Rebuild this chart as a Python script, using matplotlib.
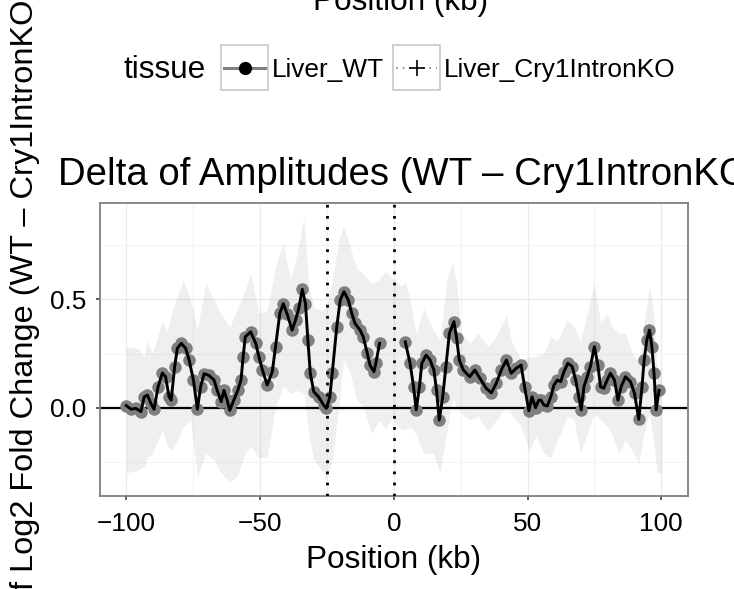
import numpy as np
import matplotlib.pyplot as plt
from matplotlib.patches import Rectangle
from matplotlib.lines import Line2D
from matplotlib.ticker import FormatStrFormatter

plt.rcParams['font.family'] = ['Liberation Sans', 'DejaVu Sans']

W, H = 734, 589

# delta of amplitudes, left of the gap (kb, value)
pos_left = [-100.0, -98.2, -96.4, -94.5, -93.3, -92.1, -90.8, -89.6, -88.1, -86.5,
            -85.3, -84.0, -83.2, -81.9, -80.9, -79.4, -77.8, -76.5, -74.9, -73.4,
            -72.2, -70.9, -69.1, -67.2, -66.0, -64.5, -63.5, -62.3, -61.3, -59.8,
            -58.3, -57.1, -56.3, -55.5, -53.5, -51.6, -50.4, -49.1, -47.3, -45.4,
            -44.2, -42.6, -41.3, -39.8, -38.0, -36.7, -35.5, -34.2, -33.0, -32.1,
            -31.2, -29.9, -28.1, -26.2, -25.2, -23.9, -23.0, -21.3, -20.0, -18.6,
            -17.0, -15.7, -14.5, -12.6, -11.4, -9.9, -8.9, -7.4, -6.7, -5.3]
delta_left = [0.010, -0.007, -0.003, -0.018, 0.050, 0.058, 0.020, -0.007, 0.097, 0.160,
              0.143, 0.050, 0.035, 0.190, 0.274, 0.297, 0.274, 0.220, 0.128, -0.007,
              0.097, 0.157, 0.149, 0.128, 0.080, 0.028, 0.080, 0.035, -0.012, 0.035,
              0.080, 0.128, 0.235, 0.327, 0.350, 0.297, 0.235, 0.174, 0.105, 0.166,
              0.281, 0.435, 0.480, 0.430, 0.358, 0.405, 0.458, 0.546, 0.480, 0.312,
              0.159, 0.074, 0.050, 0.012, -0.003, 0.050, 0.159, 0.374, 0.497, 0.535,
              0.497, 0.435, 0.389, 0.358, 0.327, 0.251, 0.197, 0.166, 0.205, 0.297]

# right of the gap
pos_right = [4.3, 6.1, 7.4, 8.4, 9.6, 10.5, 12.1, 13.6, 15.0, 16.0,
             17.0, 18.3, 19.5, 20.8, 22.5, 23.5, 24.5, 26.0, 28.4, 30.3,
             32.2, 34.6, 36.5, 38.3, 40.2, 42.1, 43.9, 45.8, 47.6, 48.9,
             50.5, 51.7, 53.0, 54.2, 55.0, 56.2, 57.4, 58.7, 59.9, 61.2,
             62.4, 63.6, 65.1, 66.7, 68.0, 69.2, 70.1, 71.1, 72.3, 73.5,
             75.0, 76.3, 77.3, 78.5, 79.8, 81.0, 82.5, 83.8, 85.0, 86.6,
             88.5, 90.0, 91.6, 92.8, 93.6, 94.6, 95.6, 96.5, 97.3, 98.1, 99.2]
delta_right = [0.304, 0.205, 0.097, -0.010, 0.097, 0.205, 0.243, 0.220, 0.174, 0.080,
               -0.057, 0.050, 0.190, 0.343, 0.397, 0.320, 0.220, 0.174, 0.143, 0.174,
               0.136, 0.089, 0.069, 0.112, 0.174, 0.220, 0.159, 0.182, 0.197, 0.097,
               -0.014, 0.050, 0.000, 0.035, 0.035, 0.012, 0.008, 0.050, 0.105, 0.128,
               0.120, 0.166, 0.205, 0.190, 0.128, 0.050, -0.010, 0.097, 0.143, 0.190,
               0.281, 0.197, 0.097, 0.090, 0.128, 0.159, 0.128, 0.035, 0.097, 0.143,
               0.120, 0.066, -0.054, 0.097, 0.220, 0.312, 0.358, 0.281, 0.159, -0.010, 0.080]

# confidence band
band_pos = [-100.0, -95.8, -93.3, -92.1, -90.2, -86.5, -84.6, -82.8, -78.7, -76.0,
            -73.4, -70.3, -67.2, -64.7, -61.3, -58.6, -55.5, -53.5, -50.4, -47.3,
            -44.2, -41.3, -38.6, -36.1, -33.6, -31.8, -29.9, -26.8, -25.2, -23.0,
            -20.5, -18.8, -16.3, -13.8, -11.4, -8.3, -5.5, -3.0, -0.8, 2.9,
            4.3, 6.1, 8.4, 11.1, 14.8, 17.3, 19.8, 22.0, 23.5, 25.3,
            28.4, 31.5, 35.3, 38.3, 42.1, 43.9, 47.6, 50.7, 53.2, 56.2,
            58.7, 61.2, 64.9, 67.4, 69.8, 72.3, 75.0, 77.3, 79.8, 81.6,
            84.1, 86.6, 89.7, 91.6, 93.5, 95.6, 97.1, 98.4, 100.0]
band_hi = [0.28, 0.274, 0.235, 0.31, 0.25, 0.40, 0.35, 0.45, 0.59, 0.50,
           0.358, 0.574, 0.50, 0.435, 0.374, 0.45, 0.543, 0.62, 0.435, 0.45,
           0.65, 0.76, 0.59, 0.71, 0.88, 0.574, 0.46, 0.45, 0.46, 0.59,
           0.77, 0.84, 0.74, 0.64, 0.62, 0.574, 0.59, 0.63, 0.60, 0.56,
           0.58, 0.50, 0.343, 0.46, 0.358, 0.31, 0.59, 0.67, 0.574, 0.343,
           0.297, 0.343, 0.281, 0.327, 0.43, 0.31, 0.22, 0.235, 0.235, 0.25,
           0.327, 0.31, 0.405, 0.374, 0.31, 0.435, 0.574, 0.39, 0.435, 0.374,
           0.343, 0.343, 0.235, 0.22, 0.39, 0.557, 0.45, 0.174, 0.17]
band_lo = [-0.30, -0.29, -0.27, -0.23, -0.21, -0.10, -0.18, -0.196, -0.088, -0.057,
           -0.32, -0.21, -0.24, -0.30, -0.34, -0.32, -0.21, -0.18, -0.23, -0.23,
           0.005, 0.10, 0.066, 0.08, 0.066, -0.12, -0.24, -0.29, -0.33, -0.24,
           0.005, 0.22, 0.16, 0.035, 0.005, -0.12, -0.057, -0.10, -0.05, -0.10,
           -0.10, -0.09, -0.12, -0.21, -0.21, -0.30, -0.12, 0.05, 0.005, -0.026,
           -0.057, -0.04, -0.11, -0.057, 0.005, -0.026, -0.088, -0.196, -0.13, -0.21,
           -0.23, -0.15, -0.04, -0.057, -0.21, -0.12, -0.026, -0.057, -0.088, -0.12,
           -0.21, -0.15, -0.21, -0.26, -0.12, -0.026, -0.15, -0.30, -0.30]

marks = [-25, 0]
xticks = [-100, -50, 0, 50, 100]
yticks = [0.0, 0.5]


def fx(px):
    return px / W


def fy(py):
    return 1 - py / H


fig = plt.figure(figsize=(W / 100, H / 100), dpi=100)
ax = fig.add_axes([fx(99.5), fy(496), 588.5 / W, 293 / H])

ax.fill_between(band_pos, band_lo, band_hi, color='grey', alpha=0.12, lw=0, zorder=1)
ax.axhline(0, color='black', lw=1.6, zorder=2)
for xs, ys in [(pos_left, delta_left), (pos_right, delta_right)]:
    ax.plot(xs, ys, 'o', color='#7f7f7f', ms=9, mec='none', zorder=3)
    ax.plot(xs, ys, '-', color='black', lw=2.1, zorder=4)
for v in marks:
    ax.axvline(v, color='black', lw=2.0, ls=(0, (1, 3)), zorder=5)

ax.set_xlim(-110, 110)
ax.set_ylim(-0.407, 0.944)
ax.set_xticks(xticks)
ax.set_xticks([-75, -25, 25, 75], minor=True)
ax.set_yticks(yticks)
ax.set_yticks([-0.25, 0.25, 0.75], minor=True)
ax.yaxis.set_major_formatter(FormatStrFormatter('%.1f'))
ax.set_axisbelow(True)
ax.grid(which='major', color='#EBEBEB', lw=1.0)
ax.grid(which='minor', color='#F3F3F3', lw=0.8)
ax.tick_params(which='minor', length=0)
ax.tick_params(which='major', length=3.2, width=1.1, color='#333333',
               labelsize=18.9, labelcolor='black')
ax.tick_params(axis='x', pad=8.5)
ax.tick_params(axis='y', pad=6)
for s in ax.spines.values():
    s.set_color('#7f7f7f')
    s.set_linewidth(1.3)

ax.set_xlabel('Position (kb)', fontsize=22.7)
ax.xaxis.set_label_coords(0.5, (496 - 568) / 293)
ax.xaxis.label.set_va('baseline')
ax.set_ylabel('Delta of Log2 Fold Change (WT – Cry1IntronKO)', fontsize=23.4)
ax.yaxis.set_label_coords((33 - 99.5) / 588.5, (496 - 341) / 293)
ax.yaxis.label.set_va('baseline')

# title and the x label of the panel above (both cut by the figure edge)
fig.text(fx(58), fy(185), 'Delta of Amplitudes (WT – Cry1IntronKO)', fontsize=27.6,
         ha='left', va='baseline')
fig.text(fx(401), fy(10), 'Position (kb)', fontsize=22.7, ha='center', va='baseline')

# legend, drawn ggplot style
fig.text(fx(123), fy(78), 'tissue', fontsize=22.7, ha='left', va='baseline')
keys = [(221, 'Liver_WT', '-', 'o'), (393, 'Liver_Cry1IntronKO', ':', '+')]
for kx, name, ls, mk in keys:
    fig.add_artist(Rectangle((fx(kx), fy(90)), 47 / W, 45 / H, transform=fig.transFigure,
                             facecolor='white', edgecolor='#CCCCCC', lw=1.3))
    if mk == 'o':
        fig.add_artist(Line2D([fx(kx + 3), fx(kx + 44)], [fy(67.5)] * 2, color='#7f7f7f',
                              lw=2.2, transform=fig.transFigure))
        fig.add_artist(Line2D([fx(kx + 23.5)], [fy(67.5)], marker='o', ms=8.5,
                              color='black', transform=fig.transFigure))
    else:
        fig.add_artist(Line2D([fx(kx + 3), fx(kx + 44)], [fy(67.5)] * 2, color='#7f7f7f',
                              lw=1.2, ls=(0, (1, 3)), transform=fig.transFigure))
        fig.add_artist(Line2D([fx(kx + 23.5)], [fy(67.5)], marker='+', ms=11, mew=1.2,
                              color='black', transform=fig.transFigure))
    fig.text(fx(kx + 51), fy(77), name, fontsize=18.9, ha='left', va='baseline')

fig.savefig('out.png', dpi=100)
